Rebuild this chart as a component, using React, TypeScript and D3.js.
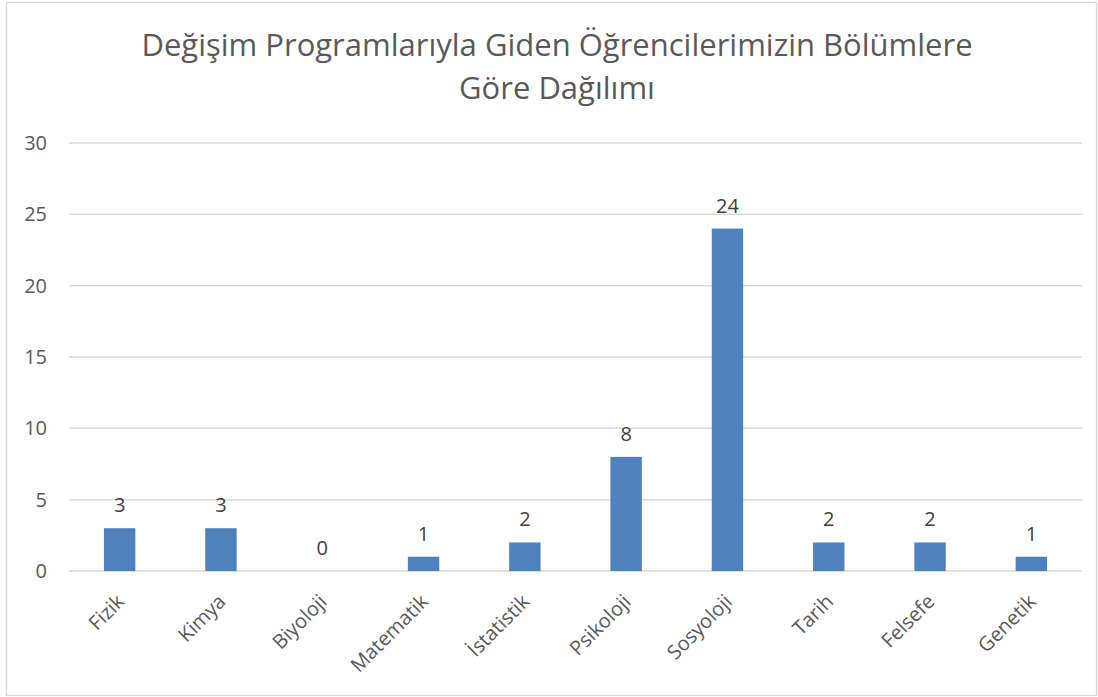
import React, { useEffect, useRef } from "react";
import * as d3 from "d3";

const categories = ["Fizik", "Kimya", "Biyoloji", "Matematik", "İstatistik", "Psikoloji", "Sosyoloji", "Tarih", "Felsefe", "Genetik"];
const counts = [3, 3, 0, 1, 2, 8, 24, 2, 2, 1];
const yTicks = [0, 5, 10, 15, 20, 25, 30];
const titleLines = ["Değişim Programlarıyla Giden Öğrencilerimizin Bölümlere", "Göre Dağılımı"];

const W = 1098;
const H = 697;
const FONT = "'Open Sans', 'Noto Sans', sans-serif";

export default function App() {
  const ref = useRef<SVGSVGElement | null>(null);

  useEffect(() => {
    const svg = d3.select(ref.current);
    svg.selectAll("*").remove();

    const left = 69, right = 1082, top = 143, bottom = 571;

    const x = d3.scaleBand<string>().domain(categories).range([left, right]).paddingInner(0.69).paddingOuter(0.345);
    const y = d3.scaleLinear().domain([0, 30]).range([bottom, top]);

    // chart border
    svg.append("rect")
      .attr("x", 6.5).attr("y", 2.5)
      .attr("width", W - 8).attr("height", H - 4)
      .attr("fill", "#fff").attr("stroke", "#d9d9d9").attr("stroke-width", 1.3);

    // title
    svg.append("g").selectAll("text").data(titleLines).enter().append("text")
      .attr("x", 557).attr("y", (_, i) => 56 + i * 43)
      .attr("text-anchor", "middle")
      .style("font-family", FONT).style("font-size", "31px").style("fill", "#595959")
      .text((d) => d);

    // gridlines
    svg.append("g").selectAll("line").data(yTicks).enter().append("line")
      .attr("x1", left).attr("x2", right)
      .attr("y1", (d) => y(d)).attr("y2", (d) => y(d))
      .attr("stroke", "#d9d9d9").attr("stroke-width", 1.5);

    // y labels
    svg.append("g").selectAll("text").data(yTicks).enter().append("text")
      .attr("x", 47).attr("y", (d) => y(d)).attr("dy", "0.35em")
      .attr("text-anchor", "end")
      .style("font-family", FONT).style("font-size", "20px").style("fill", "#595959")
      .text((d) => d);

    // bars
    svg.append("g").selectAll("rect").data(counts).enter().append("rect")
      .attr("x", (_, i) => x(categories[i])!)
      .attr("y", (d) => y(d))
      .attr("width", x.bandwidth())
      .attr("height", (d) => y(0) - y(d))
      .attr("fill", "#4F81BD");

    // value labels
    svg.append("g").selectAll("text").data(counts).enter().append("text")
      .attr("x", (_, i) => x(categories[i])! + x.bandwidth() / 2)
      .attr("y", (d) => y(d) - 16)
      .attr("text-anchor", "middle")
      .style("font-family", FONT).style("font-size", "20px").style("fill", "#404040")
      .text((d) => d);

    // category labels
    svg.append("g").selectAll("text").data(categories).enter().append("text")
      .attr("transform", (d) => `translate(${x(d)! + x.bandwidth() / 2 - 4},${bottom + 22}) rotate(-45)`)
      .attr("text-anchor", "end")
      .attr("dy", "0.7em")
      .style("font-family", FONT).style("font-size", "20px").style("fill", "#595959")
      .text((d) => d);
  }, []);

  return (
    <svg ref={ref} width={W} height={H} style={{ position: "absolute", left: 0, top: 0, background: "#fff" }} />
  );
}
